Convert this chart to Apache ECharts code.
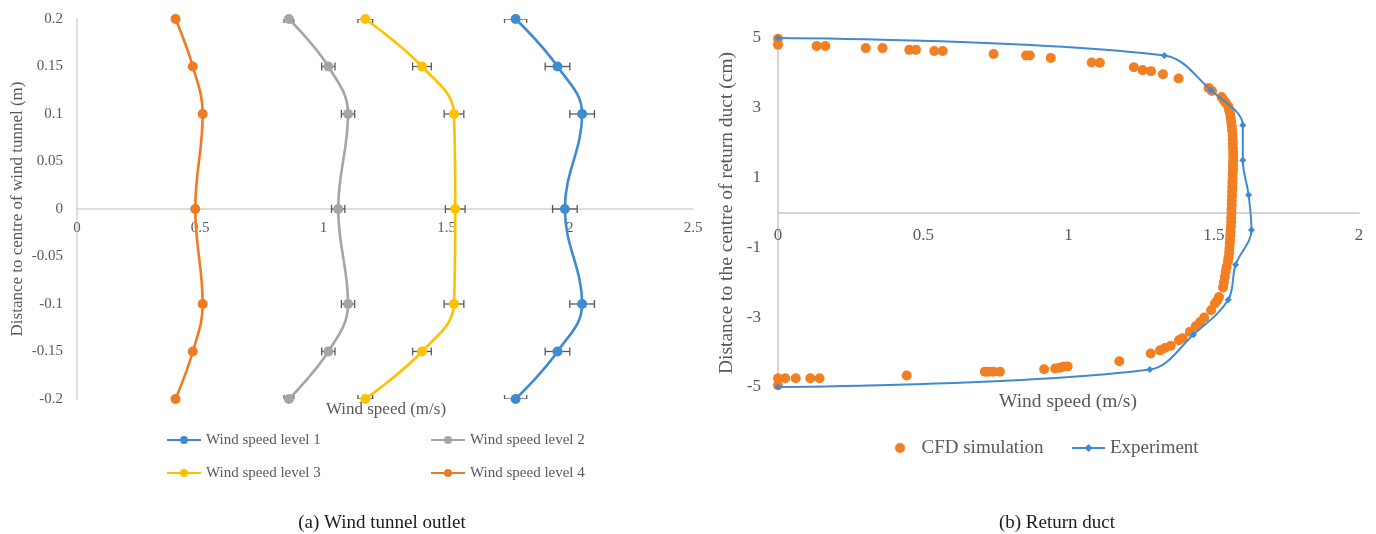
<!DOCTYPE html>
<html>
<head>
<meta charset="utf-8">
<script src="https://cdn.jsdelivr.net/npm/echarts@6/dist/echarts.min.js"></script>
<style>
  html, body { margin: 0; padding: 0; background: #fff; }
  #chart { width: 1376px; height: 534px; }
</style>
</head>
<body>
<div id="chart"></div>
<script>
// ---- (a) Wind tunnel outlet: velocity profiles across the outlet ----
const heights = [0.2, 0.15, 0.1, 0, -0.1, -0.15, -0.2];
const level1 = [1.78, 1.95, 2.05, 1.98, 2.05, 1.95, 1.78];
const level2 = [0.86, 1.02, 1.10, 1.06, 1.10, 1.02, 0.86];
const level3 = [1.17, 1.40, 1.53, 1.535, 1.53, 1.40, 1.17];
const level4 = [0.40, 0.47, 0.51, 0.48, 0.51, 0.47, 0.40];
// horizontal error-bar half widths (m/s)
const err1 = [0.045, 0.05, 0.05, 0.05, 0.05, 0.05, 0.045];
const err2 = [0.02, 0.027, 0.027, 0.027, 0.027, 0.027, 0.02];
const err3 = [0.03, 0.038, 0.04, 0.04, 0.04, 0.038, 0.03];
const err4 = [0.004, 0.005, 0.005, 0.005, 0.005, 0.005, 0.004];
const levelNames = ['Wind speed level 1', 'Wind speed level 2', 'Wind speed level 3', 'Wind speed level 4'];

// ---- (b) Return duct: CFD vs. measured profile ----
const expY = [5, 4.5, 3.5, 2.5, 1.5, 0.5, -0.5, -1.5, -2.5, -3.5, -4.5, -5];
const expX = [0, 1.33, 1.49, 1.60, 1.60, 1.62, 1.63, 1.575, 1.55, 1.43, 1.28, 0];
const cfdX = [
  0, 0, 0.133, 0.163, 0.302, 0.36, 0.452, 0.475, 0.538, 0.567, 0.742, 0.854, 0.867, 0.939,
  1.08, 1.108, 1.225, 1.255, 1.284, 1.325, 1.379, 1.482, 1.494, 1.527, 1.535, 1.542, 1.55, 1.553,
  1.556, 1.558, 1.56, 1.562, 1.563, 1.565, 1.565, 1.566, 1.566, 1.567, 1.567, 1.567, 1.566, 1.566,
  1.565, 1.565, 1.564, 1.564, 1.563, 1.563, 1.562, 1.562, 1.561, 1.561, 1.56, 1.56, 1.559, 1.558,
  1.557, 1.556, 1.555, 1.554, 1.553, 1.551, 1.549,
  1.544, 1.541, 1.538, 1.535, 1.532, 1.518, 1.512, 1.504, 1.491, 1.467, 1.453, 1.438, 1.418,
  1.393, 1.38, 1.352, 1.332, 1.315, 1.283, 1.175, 0.997, 0.982, 0.969, 0.954, 0.916, 0.764,
  0.741, 0.724, 0.712, 0.443, 0.143, 0.111, 0.061, 0.025, 0, 0
];
const cfdY = [
  4.98, 4.81, 4.77, 4.77, 4.71, 4.71, 4.66, 4.66, 4.63, 4.63, 4.54, 4.50, 4.50, 4.43,
  4.30, 4.29, 4.16, 4.08, 4.05, 3.96, 3.84, 3.57, 3.48, 3.31, 3.21, 3.14, 3.04, 2.93,
  2.84, 2.72, 2.6, 2.47, 2.35, 2.22, 2.1, 1.97, 1.84, 1.72, 1.6, 1.47, 1.35, 1.22,
  1.1, 0.97, 0.85, 0.72, 0.6, 0.47, 0.35, 0.22, 0.1, -0.03, -0.15, -0.28, -0.4, -0.53,
  -0.65, -0.78, -0.9, -1.03, -1.15, -1.28, -1.4,
  -1.56, -1.70, -1.85, -2.0, -2.15, -2.42, -2.52, -2.61, -2.80, -3.01, -3.14, -3.26, -3.42,
  -3.60, -3.66, -3.82, -3.88, -3.95, -4.04, -4.26, -4.41, -4.42, -4.45, -4.47, -4.49, -4.56,
  -4.56, -4.56, -4.56, -4.67, -4.75, -4.75, -4.75, -4.75, -4.75, -4.95
];

const SERIF = '"Liberation Serif", "Times New Roman", serif';
const GREY_TEXT = '#595959';
const levelColors = ['#3f8ad2', '#a5a5a5', '#ffc000', '#f07a22'];
const levels = [level1, level2, level3, level4];
const errs = [err1, err2, err3, err4];

const pairs = (xs, ys) => xs.map((x, i) => [x, ys[i]]);

// plot boxes of the two panels
const boxA = { left: 77, top: 19, width: 616, height: 380 };
const boxB = { left: 778, top: 38, width: 581, height: 349 };
const yMinA = -0.2, yMaxA = 0.2;
const yMinB = -5, yMaxB = 5;
// shift of the horizontal axis from the bottom edge up to y = 0
const zeroShiftA = -boxA.height * (0 - yMinA) / (yMaxA - yMinA);
const zeroShiftB = -boxB.height * (0 - yMinB) / (yMaxB - yMinB);

function errorBarItem(params, api) {
  const x = api.value(0), y = api.value(1), e = api.value(2);
  const a = api.coord([x - e, y]);
  const b = api.coord([x + e, y]);
  const h = 4;
  const style = { stroke: '#5a5a5a', lineWidth: 1.3 };
  return {
    type: 'group',
    children: [
      { type: 'line', shape: { x1: a[0], y1: a[1], x2: b[0], y2: b[1] }, style },
      { type: 'line', shape: { x1: a[0], y1: a[1] - h, x2: a[0], y2: a[1] + h }, style },
      { type: 'line', shape: { x1: b[0], y1: b[1] - h, x2: b[0], y2: b[1] + h }, style }
    ]
  };
}

const series = [];
levels.forEach((vals, k) => {
  series.push({
    name: 'error bars ' + (k + 1),
    type: 'custom',
    xAxisIndex: 0, yAxisIndex: 0,
    clip: true,
    z: 1,
    renderItem: errorBarItem,
    encode: { x: 0, y: 1 },
    data: vals.map((v, i) => [v, heights[i], errs[k][i]]),
    silent: true
  });
});
levels.forEach((vals, k) => {
  series.push({
    name: levelNames[k],
    type: 'line',
    xAxisIndex: 0, yAxisIndex: 0,
    smooth: 0.4,
    clip: false,
    z: 3,
    symbol: 'circle',
    symbolSize: 10,
    showSymbol: true,
    lineStyle: { width: 2.6, color: levelColors[k] },
    itemStyle: { color: levelColors[k] },
    data: pairs(vals, heights)
  });
});
series.push({
  name: 'CFD simulation',
  type: 'scatter',
  xAxisIndex: 1, yAxisIndex: 1,
  symbol: 'circle',
  symbolSize: 10,
  clip: false,
  z: 2,
  itemStyle: { color: '#f27f22', opacity: 1 },
  data: pairs(cfdX, cfdY)
});
series.push({
  name: 'Experiment',
  type: 'line',
  xAxisIndex: 1, yAxisIndex: 1,
  smooth: 0.35,
  clip: false,
  z: 3,
  symbol: 'diamond',
  symbolSize: 7,
  lineStyle: { width: 2, color: '#3f8ad2' },
  itemStyle: { color: '#3f8ad2' },
  data: pairs(expX, expY)
});

function legendAt(name, left, centerY, fontSize, itemWidth, itemHeight) {
  const lh = fontSize + 1;
  return {
    data: [name],
    left: left,
    top: centerY - lh / 2,
    padding: 0,
    itemWidth: itemWidth,
    itemHeight: itemHeight,
    selectedMode: false,
    textStyle: { fontFamily: SERIF, fontSize: fontSize, color: GREY_TEXT, lineHeight: lh }
  };
}

function textEl(text, x, y, size, color, rotation) {
  return {
    type: 'text',
    x: x, y: y,
    rotation: rotation || 0,
    style: {
      text: text,
      fill: color,
      font: size + 'px ' + SERIF,
      align: 'center',
      verticalAlign: 'middle'
    },
    silent: true
  };
}

const axisLineA = { show: true, onZero: false, lineStyle: { color: '#d4d4d4', width: 1.5 } };
const axisLineB = { show: true, onZero: false, lineStyle: { color: '#c6c6c6', width: 1.5 } };

const option = {
  backgroundColor: '#ffffff',
  animation: false,
  grid: [
    Object.assign({ containLabel: false }, boxA),
    Object.assign({ containLabel: false }, boxB)
  ],
  xAxis: [
    {
      type: 'value', gridIndex: 0, min: 0, max: 2.5, interval: 0.5,
      position: 'bottom', offset: zeroShiftA,
      axisLine: axisLineA, axisTick: { show: false }, splitLine: { show: false },
      axisLabel: { margin: 12, fontFamily: SERIF, fontSize: 15, color: GREY_TEXT }
    },
    {
      type: 'value', gridIndex: 1, min: 0, max: 2, interval: 0.5,
      position: 'bottom', offset: zeroShiftB,
      axisLine: axisLineB, axisTick: { show: false }, splitLine: { show: false },
      axisLabel: { margin: 15, fontFamily: SERIF, fontSize: 17, color: GREY_TEXT }
    }
  ],
  yAxis: [
    {
      type: 'value', gridIndex: 0, min: yMinA, max: yMaxA, interval: 0.05,
      position: 'left',
      axisLine: axisLineA, axisTick: { show: false }, splitLine: { show: false },
      axisLabel: { margin: 14, fontFamily: SERIF, fontSize: 15, color: GREY_TEXT }
    },
    {
      type: 'value', gridIndex: 1, min: yMinB, max: yMaxB, interval: 2,
      position: 'left',
      axisLine: axisLineB, axisTick: { show: false }, splitLine: { show: false },
      axisLabel: { margin: 17, fontFamily: SERIF, fontSize: 17, color: GREY_TEXT }
    }
  ],
  legend: [
    legendAt(levelNames[0], 166, 440, 15, 34, 10),
    legendAt(levelNames[1], 430, 440, 15, 34, 10),
    legendAt(levelNames[2], 166, 473, 15, 34, 10),
    legendAt(levelNames[3], 430, 473, 15, 34, 10),
    legendAt('CFD simulation', 895, 448, 19, 33, 10),
    legendAt('Experiment', 1071, 448, 19, 33, 10)
  ],
  graphic: [
    textEl('Distance to centre of wind tunnel (m)', 18, 209, 17, GREY_TEXT, Math.PI / 2),
    textEl('Wind speed (m/s)', 386, 410, 17, GREY_TEXT),
    textEl('(a) Wind tunnel outlet', 382, 523, 19, '#1a1a1a'),
    textEl('Distance to the centre of return duct (cm)', 727, 213, 19.5, GREY_TEXT, Math.PI / 2),
    textEl('Wind speed (m/s)', 1068, 402, 19.5, GREY_TEXT),
    textEl('(b) Return duct', 1057, 523, 19, '#1a1a1a')
  ],
  series: series
};

const chart = echarts.init(document.getElementById('chart'), null, { renderer: 'canvas' });
chart.setOption(option);
</script>
</body>
</html>
